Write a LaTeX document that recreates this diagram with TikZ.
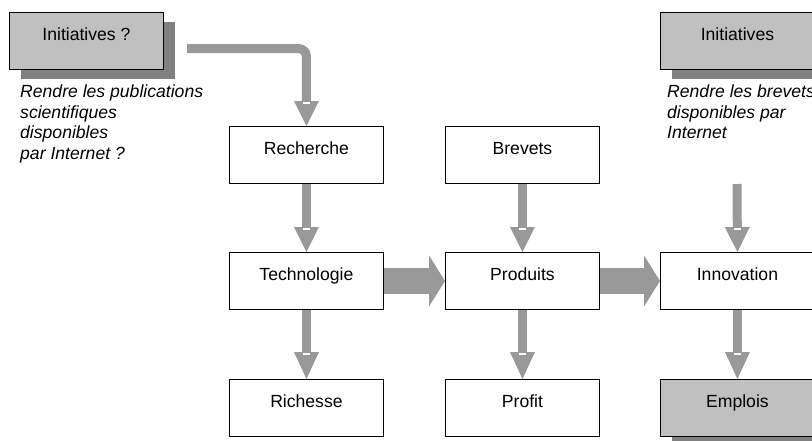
\documentclass[tikz,border=0pt]{standalone}
\usepackage{fontspec}
\setmainfont{Liberation Sans}
\usetikzlibrary{arrows.meta,calc,shadows}
\definecolor{agray}{HTML}{999999}
\definecolor{bgray}{HTML}{C0C0C0}
\definecolor{sgray}{HTML}{808080}
\begin{document}
\begin{tikzpicture}[x=1pt,y=-1pt,
  box/.style={draw=black, line width=0.9pt, fill=white, minimum width=154pt,
    inner xsep=0pt, inner ysep=0pt, text height=27.8pt, text depth=29.2pt,
    font=\fontsize{17.6}{20}\selectfont, anchor=north west},
  graybox/.style={box, fill=bgray,
    drop shadow={shadow xshift=11.5pt, shadow yshift=-10pt, fill=sgray, opacity=1}},
  note/.style={font=\fontsize{17.6}{20.8}\selectfont\itshape, align=left, inner sep=0pt, anchor=north west},
  varrow/.style={draw=agray, line width=9pt, -{Triangle[width=25pt, length=25pt, line width=0pt]}},
  varrowl/.style={draw=agray, line width=9pt, -{Triangle[width=25pt, length=27pt, line width=0pt]}},
  harrow/.style={draw=agray, line width=26pt, -{Triangle[width=51pt, length=16pt, line width=0pt]}},
  notch/.style={fill=white}
]
\useasboundingbox (0,0) rectangle (812,440);
\clip (0,0) rectangle (812,440);

% boxes
\node[graybox] (init1) at (9,12) {Initiatives ?};
\node[graybox] (init2) at (660,12) {Initiatives};
\node[box] (rech) at (229,126) {Recherche};
\node[box] (brev) at (445,126) {Brevets};
\node[box] (tech) at (229,252) {Technologie};
\node[box] (prod) at (445,252) {Produits};
\node[box] (innov) at (660,252) {Innovation};
\node[box] (rich) at (229,379) {Richesse};
\node[box] (profit) at (445,379) {Profit};
\node[graybox] (empl) at (660,379) {Emplois};

% notes
\node[note] (n1) at (20,84.3) {Rendre les publications\\scientifiques\\disponibles\\par Internet ?};
\node[note] (n2) at (667,84.3) {Rendre les brevets\\disponibles par\\Internet};

% connectors
\coordinate (e0) at (187,48.5);
\coordinate (i2) at (737,184);
\draw[varrow, rounded corners=8pt] (e0) -| (rech.north);
\draw[varrow] (rech.south) -- (tech.north);
\draw[varrow] (brev.south) -- (prod.north);
\draw[varrow] (i2) -- (innov.north);
\draw[varrowl] (tech.south) -- (rich.north);
\draw[varrowl] (prod.south) -- (profit.north);
\draw[varrowl] (innov.south) -- (empl.north);
\draw[harrow] (tech.east) -- (prod.west);
\draw[harrow] (prod.east) -- (innov.west);

% notches in the arrow heads
\foreach \t/\d in {rech/25, tech/25, prod/25, innov/25, rich/27, profit/27, empl/27}{
  \fill[notch] ($(\t.north)+(-3.5,-\d+0.5)$) rectangle ($(\t.north)+(3.5,-\d+3)$);
}
\end{tikzpicture}
\end{document}
